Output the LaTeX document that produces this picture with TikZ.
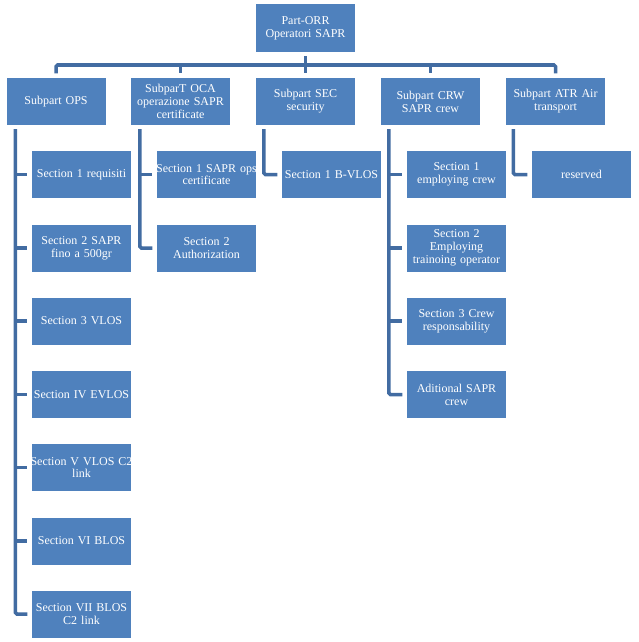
\documentclass[tikz,border=0pt]{standalone}
\usepackage{fontspec}
\setmainfont{Liberation Serif}
\usetikzlibrary{calc}
\definecolor{boxblue}{RGB}{79,129,189}
\definecolor{linkblue}{RGB}{66,108,162}
\newcommand\ovl[1]{\makebox[0pt]{#1}}
\begin{document}
\begin{tikzpicture}[x=1pt,y=-1pt,
  box/.style={fill=boxblue, text=white, minimum width=99pt, minimum height=47pt,
    inner sep=0pt, text width=99pt, align=center,
    font=\fontsize{12}{12.8}\selectfont},
  link/.style={draw=linkblue, line width=3.5pt, rounded corners=1.5pt}]
\useasboundingbox (0,0) rectangle (639,642);
% top
\node[box, minimum height=48pt] (top) at (305.5,28) {\ovl{Part-ORR}\\\ovl{Operatori SAPR}};
% subparts
\node[box] (ops) at (56,101.5) {\ovl{Subpart OPS}};
\node[box] (oca) at (180.5,101.5) {\ovl{SubparT OCA}\\\ovl{operazione SAPR}\\\ovl{certificate}};
\node[box] (sec) at (305.5,101.5) {\ovl{Subpart SEC}\\\ovl{security}};
\node[box] (crw) at (430.5,101.5) {\ovl{Subpart CRW}\\\ovl{SAPR crew}};
\node[box] (atr) at (555.5,101.5) {\ovl{Subpart ATR Air}\\\ovl{transport}};
% OPS children
\node[box] (o1) at (81.5,174.5) {\ovl{Section 1 requisiti}};
\node[box] (o2) at (81.5,248) {\ovl{Section 2 SAPR}\\\ovl{fino a 500gr}};
\node[box] (o3) at (81.5,321) {\ovl{Section 3 VLOS}};
\node[box] (o4) at (81.5,394.5) {\ovl{Section IV EVLOS}};
\node[box] (o5) at (81.5,467.5) {\ovl{Section V VLOS C2}\\\ovl{link}};
\node[box] (o6) at (81.5,541) {\ovl{Section VI BLOS}};
\node[box] (o7) at (81.5,614) {\ovl{Section VII BLOS}\\\ovl{C2 link}};
% OCA children
\node[box] (c1) at (206.5,174.5) {\ovl{Section 1 SAPR ops}\\\ovl{certificate}};
\node[box] (c2) at (206.5,248) {\ovl{Section 2}\\\ovl{Authorization}};
% SEC child
\node[box] (s1) at (331.5,174.5) {\ovl{Section 1 B-VLOS}};
% CRW children
\node[box] (w1) at (456.5,174.5) {\ovl{Section 1}\\\ovl{employing crew}};
\node[box] (w2) at (456.5,248) {\ovl{Section 2}\\\ovl{Employing}\\\ovl{trainoing operator}};
\node[box] (w3) at (456.5,321) {\ovl{Section 3 Crew}\\\ovl{responsability}};
\node[box] (w4) at (456.5,394.5) {\ovl{Aditional SAPR}\\\ovl{crew}};
% ATR child
\node[box] (a1) at (581.5,174.5) {\ovl{reserved}};
% top connectors
\coordinate (bus) at (0,65);
\draw[link, shorten <=4pt] (top.south) -- (top.south |- bus);
\draw[link, shorten <=4.5pt, shorten >=4.5pt] (ops.north) |- (atr.north |- bus) -- (atr.north);
\foreach \n in {oca,sec,crw}
  \draw[link, shorten >=4.5pt] (\n.north |- bus) -- (\n.north);
% OPS
\coordinate (opsv) at ($(ops.south west)+(9,4)$);
\draw[link, shorten >=4.5pt] (opsv) |- (o7.west);
\foreach \i in {1,...,6}
  \draw[link, shorten >=4.5pt] (opsv |- o\i.west) -- (o\i.west);
% OCA
\coordinate (ocav) at ($(oca.south west)+(9,4)$);
\draw[link, shorten >=4.5pt] (ocav) |- (c2.west);
\draw[link, shorten >=4.5pt] (ocav |- c1.west) -- (c1.west);
% SEC
\coordinate (secv) at ($(sec.south west)+(8,4)$);
\draw[link, shorten >=4.5pt] (secv) |- (s1.west);
% CRW
\coordinate (crwv) at ($(crw.south west)+(8,4)$);
\draw[link, shorten >=4.5pt] (crwv) |- (w4.west);
\foreach \i in {1,2,3}
  \draw[link, shorten >=4.5pt] (crwv |- w\i.west) -- (w\i.west);
% ATR
\coordinate (atrv) at ($(atr.south west)+(7.5,4)$);
\draw[link, shorten >=4.5pt] (atrv) |- (a1.west);
\end{tikzpicture}
\end{document}
